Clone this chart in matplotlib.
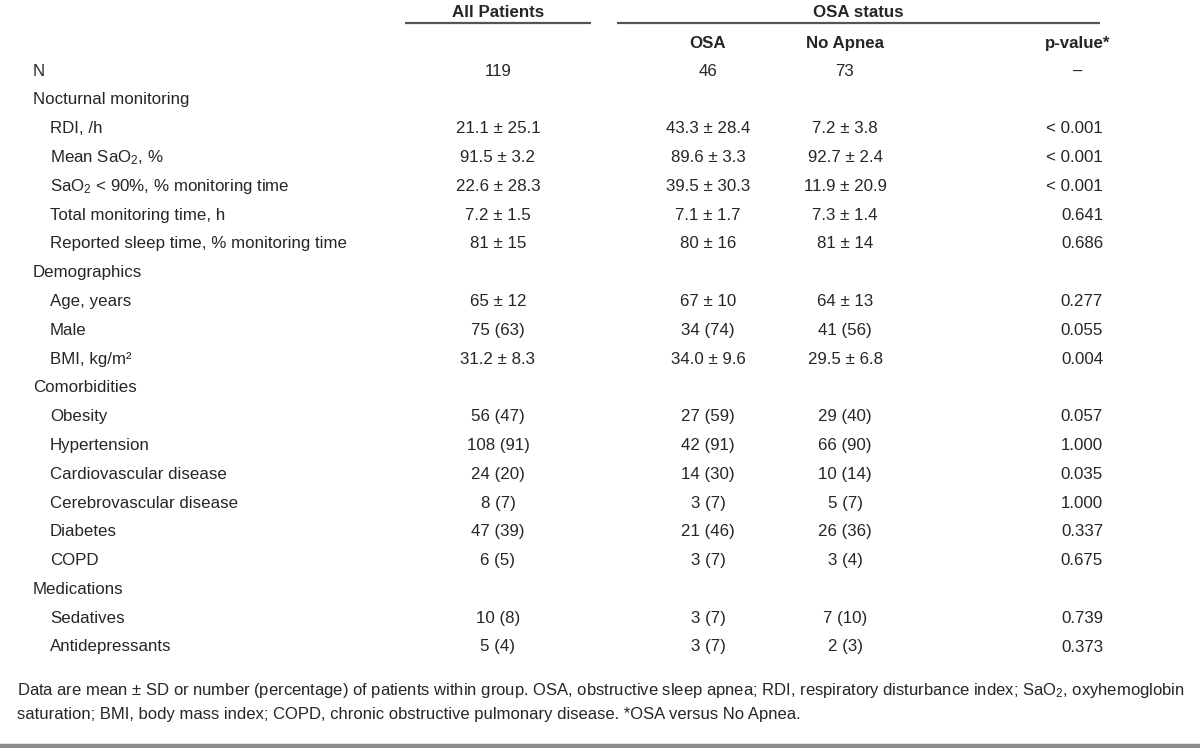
import matplotlib
matplotlib.use("Agg")
import matplotlib.pyplot as plt
from matplotlib import font_manager

names = {f.name for f in font_manager.fontManager.ttflist}
FAM = "Liberation Sans Narrow" if "Liberation Sans Narrow" in names else "Liberation Sans"
plt.rcParams["font.family"] = [FAM, "DejaVu Sans"]
plt.rcParams["mathtext.fontset"] = "custom"
plt.rcParams["mathtext.rm"] = FAM
plt.rcParams["mathtext.it"] = FAM
plt.rcParams["mathtext.bf"] = FAM + ":bold"

# ---- data ----
row_labels = ["N", "Nocturnal monitoring", "RDI, /h", "Mean SaO$_2$, %",
              "SaO$_2$ < 90%, % monitoring time", "Total monitoring time, h",
              "Reported sleep time, % monitoring time", "Demographics",
              "Age, years", "Male", "BMI, kg/m²", "Comorbidities", "Obesity",
              "Hypertension", "Cardiovascular disease", "Cerebrovascular disease",
              "Diabetes", "COPD", "Medications", "Sedatives", "Antidepressants"]
indent = [0, 0, 1, 1, 1, 1, 1, 0, 1, 1, 1, 0, 1, 1, 1, 1, 1, 1, 0, 1, 1]
all_patients = ["119", "", "21.1 ± 25.1", "91.5 ± 3.2", "22.6 ± 28.3", "7.2 ± 1.5",
                "81 ± 15", "", "65 ± 12", "75 (63)", "31.2 ± 8.3", "", "56 (47)",
                "108 (91)", "24 (20)", "8 (7)", "47 (39)", "6 (5)", "", "10 (8)", "5 (4)"]
osa = ["46", "", "43.3 ± 28.4", "89.6 ± 3.3", "39.5 ± 30.3", "7.1 ± 1.7",
       "80 ± 16", "", "67 ± 10", "34 (74)", "34.0 ± 9.6", "", "27 (59)",
       "42 (91)", "14 (30)", "3 (7)", "21 (46)", "3 (7)", "", "3 (7)", "3 (7)"]
no_apnea = ["73", "", "7.2 ± 3.8", "92.7 ± 2.4", "11.9 ± 20.9", "7.3 ± 1.4",
            "81 ± 14", "", "64 ± 13", "41 (56)", "29.5 ± 6.8", "", "29 (40)",
            "66 (90)", "10 (14)", "5 (7)", "26 (36)", "3 (4)", "", "7 (10)", "2 (3)"]
p_values = ["–", "", "< 0.001", "< 0.001", "< 0.001", "0.641", "0.686", "",
            "0.277", "0.055", "0.004", "", "0.057", "1.000", "0.035", "1.000",
            "0.337", "0.675", "", "0.739", "0.373"]
col_headers = ["OSA", "No Apnea", "p-value*"]
group_headers = ["All Patients", "OSA status"]
footnote = ["Data are mean ± SD or number (percentage) of patients within group. OSA, obstructive sleep apnea; RDI, respiratory disturbance index; SaO$_2$, oxyhemoglobin",
            "saturation; BMI, body mass index; COPD, chronic obstructive pulmonary disease. *OSA versus No Apnea."]

# ---- layout ----
W, H = 1200, 748
fig = plt.figure(figsize=(W / 100, H / 100), dpi=100)
ax = fig.add_axes([0, 0, 1, 1])
ax.set_xlim(0, W)
ax.set_ylim(H, 0)
ax.axis("off")

TXT = "#262626"
FS = 12.2
FS_NOTE = 12.0
y0, dy = 71, 28.8
x_label = [33, 50]
x_all, x_osa, x_no, x_p_right, x_p_center = 498, 708, 845, 1103, 1078

ax.text(x_all, 12, group_headers[0], ha="center", va="center", fontsize=FS, fontweight="bold", color=TXT)
ax.text(858, 12, group_headers[1], ha="center", va="center", fontsize=FS, fontweight="bold", color=TXT)
ax.plot([405, 591], [23, 23], color="#555555", lw=1.6, solid_capstyle="butt")
ax.plot([617, 1100], [23, 23], color="#555555", lw=1.6, solid_capstyle="butt")
for x, h in zip([x_osa, x_no, x_p_center], col_headers):
    ax.text(x, 43, h, ha="center", va="center", fontsize=FS, fontweight="bold", color=TXT)

for i, lab in enumerate(row_labels):
    y = y0 + i * dy
    ax.text(x_label[indent[i]], y, lab, ha="left", va="center", fontsize=FS, color=TXT)
    ax.text(x_all, y, all_patients[i], ha="center", va="center", fontsize=FS, color=TXT)
    ax.text(x_osa, y, osa[i], ha="center", va="center", fontsize=FS, color=TXT)
    ax.text(x_no, y, no_apnea[i], ha="center", va="center", fontsize=FS, color=TXT)
    if p_values[i] == "–":
        ax.text(x_p_center, y, p_values[i], ha="center", va="center", fontsize=FS, color=TXT)
    else:
        ax.text(x_p_right, y, p_values[i], ha="right", va="center", fontsize=FS, color=TXT)

ax.text(17, 690, footnote[0], ha="left", va="center", fontsize=FS_NOTE, color=TXT)
ax.text(17, 714, footnote[1], ha="left", va="center", fontsize=FS_NOTE, color=TXT)
ax.plot([0, W], [745.5, 745.5], color="#8a8a8a", lw=3.2, solid_capstyle="butt")

fig.savefig("out.png", dpi=100)
